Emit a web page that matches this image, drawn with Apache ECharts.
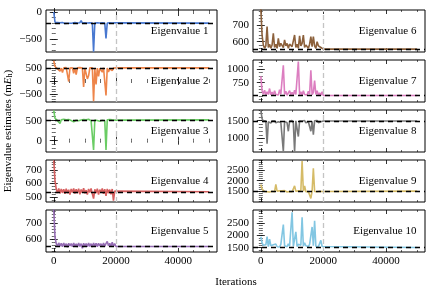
<!DOCTYPE html>
<html><head><meta charset="utf-8">
<script src="https://cdn.jsdelivr.net/npm/echarts@6/dist/echarts.min.js"></script>
<style>html,body{margin:0;padding:0;background:#fff}#c{width:434px;height:291px}</style>
</head><body><div id="c"></div>
<script>
const iterations = [0,400,800,1200,1600,2000,2400,2800,3200,3600,4000,4400,4800,5200,5600,6000,6400,6800,7200,7600,8000,8400,8800,9200,9600,10000,10400,10800,11200,11600,12000,12400,12800,13200,13600,14000,14400,14800,15200,15600,16000,16400,16800,17200,17600,18000,18400,18800,19200,19600,20000,50000];

const eig1 = [0,-190,-205,-195,-208,-200,-212,-196,-206,-211,
  -198,-207,-190,-209,-200,-205,-208,-196,-206,-203,
  -210,-198,-160,-205,-207,-199,-209,-203,-206,-198,
  -208,-204,-735,-203,-207,-200,-209,-204,-206,-199,
  -208,-205,-490,-203,-207,-200,-206,-204,-209,-202,
  -205,-205];
const eig2 = [780,560,500,470,510,380,495,330,505,460,
  515,480,-20,500,470,510,300,490,250,505,
  460,515,480,500,-230,495,470,80,200,505,
  480,510,-780,470,-130,500,180,490,460,340,
  510,480,-560,500,350,470,510,400,495,470,
  505,505];
const eig3 = [760,560,525,500,530,430,520,505,535,510,
  525,495,530,515,505,535,470,520,510,530,
  500,525,515,480,530,510,520,505,535,515,
  500,525,-230,515,530,505,520,485,530,510,
  520,500,-230,525,510,530,495,520,470,515,
  520,520];
const eig4 = [770,620,560,530,565,528,560,532,558,525,
  562,530,555,520,560,535,565,527,558,530,
  563,522,557,533,566,528,552,520,560,535,
  564,526,490,558,530,562,520,556,534,565,
  525,559,510,561,530,556,522,560,475,545,
  540,540];
const eig5 = [790,610,570,552,575,555,572,550,574,553,
  570,548,573,556,571,550,575,554,569,549,
  574,552,570,540,573,555,571,551,574,553,
  570,549,575,554,572,550,573,556,570,551,
  574,553,571,585,556,572,550,580,554,570,
  552,552];
const eig6 = [800,640,580,560,575,690,565,585,560,580,
  650,565,585,560,620,570,590,600,565,610,
  575,590,560,585,590,570,580,640,565,585,
  560,635,575,590,640,565,580,590,560,585,
  630,570,630,575,560,600,575,585,565,575,
  555,555];
const eig7 = [870,600,540,610,520,580,530,640,525,575,
  515,600,530,560,520,620,535,570,1070,530,
  590,515,560,600,525,570,520,610,530,565,
  1140,525,580,515,600,530,560,520,590,535,
  980,525,570,790,530,600,520,560,515,580,
  512,512];
const eig8 = [1800,1560,1480,1450,1500,850,1470,1505,1430,1495,
  1460,1500,1440,1490,1470,1505,1450,1495,630,1480,
  1500,1440,1200,1490,1460,1505,1430,620,1495,1470,
  1050,1500,1450,1490,1465,1505,1440,1495,1470,1500,
  1200,1480,1100,1495,1460,1505,1445,1490,1470,1500,
  1490,1490];
const eig9 = [1820,1600,1530,1480,1520,1470,1510,1460,1525,1490,
  1515,1470,1820,1500,1460,1520,1480,1510,1470,1525,
  1490,1460,1515,1480,1505,1470,1520,1750,1490,1465,
  1510,1480,1525,2950,1495,1750,1470,1510,1485,1520,
  1150,1500,2600,1480,1515,1470,1505,1490,1520,1480,
  1500,1500];
const eig10 = [1950,1700,1600,1560,1620,1950,1540,1850,1580,1530,
  1620,1560,1650,1540,1600,1530,1640,1560,2450,1580,
  1620,1540,1660,1570,1600,2950,1560,1620,2150,1550,
  1640,1570,1600,2750,1560,1700,1580,1620,1550,1640,
  1570,2350,1580,2600,1560,1620,1540,1600,1800,1550,
  1510,1510];

const exactValues = [-205, 505, 520, 540, 552, 553, 512, 1490, 1500, 1510];
const panelLabels = ['Eigenvalue 1','Eigenvalue 2','Eigenvalue 3','Eigenvalue 4','Eigenvalue 5',
  'Eigenvalue 6','Eigenvalue 7','Eigenvalue 8','Eigenvalue 9','Eigenvalue 10'];
const yMins = [-740, -810, -283, 465, 517, 538, 390, 611, 975, 1324];
const yMaxs = [37, 810, 767, 773, 785, 790, 1170, 1804, 3000, 3045];
const yTicks = [[-500,0],[-500,0,500],[0,500],[500,600,700],[600,700],[600,700],[750,1000],[1000,1500],[1500,2000,2500],[1500,2000,2500]];
const yMinorSteps = [100,100,100,20,20,20,62.5,100,100,100];
const xTicks = [0, 20000, 40000];
const xMinorTicks = [0, 5000, 10000, 15000, 25000, 30000, 35000, 45000, 50000];
const switchIter = 20000;
const xMin = -2500, xMax = 52500;

const allSeries = [eig1,eig2,eig3,eig4,eig5,eig6,eig7,eig8,eig9,eig10];
const colors = ['#4878d0','#ee854a','#6acc64','#d65f5f','#956cb4','#8c613c','#dc7ec0','#797979','#d5bb67','#82c6e2'];

const FONT = 'Liberation Serif';
const fmt = v => String(v).replace('-', '\u2212');
const labelStyle = {hideOverlap: false, showMinLabel: true, showMaxLabel: true, margin: 4, color: '#000', fontFamily: FONT, fontSize: 11, formatter: fmt};

const grids = [], xAxes = [], yAxes = [], series = [], graphics = [];
for (let k = 0; k < 10; k++) {
  const col = k < 5 ? 0 : 1, row = k % 5;
  const left = col ? 253 : 46, width = col ? 172 : 171, top = 10 + row * 50, height = 42;
  grids.push({left, top, width, height, show: true, borderColor: '#000', borderWidth: 1, backgroundColor: 'transparent'});
  const minorY = [];
  const st = yMinorSteps[k];
  for (let v = Math.ceil(yMins[k] / st) * st; v <= yMaxs[k]; v += st) minorY.push(v);
  const bottomRow = row === 4;
  const xBase = {type: 'value', gridIndex: k, min: xMin, max: xMax, splitLine: {show: false}, axisLine: {show: false}};
  const xi = xAxes.length;
  xAxes.push(Object.assign({}, xBase, {position: 'bottom',
    axisTick: {show: true, inside: true, length: 4, customValues: xTicks, lineStyle: {color: '#000', width: 0.8}},
    axisLabel: Object.assign({show: bottomRow, customValues: xTicks}, labelStyle)}));
  xAxes.push(Object.assign({}, xBase, {position: 'bottom',
    axisTick: {show: true, inside: true, length: 2, customValues: xMinorTicks, lineStyle: {color: '#000', width: 0.6}},
    axisLabel: {show: false}}));
  xAxes.push(Object.assign({}, xBase, {position: 'top',
    axisTick: {show: true, inside: true, length: 4, customValues: xTicks, lineStyle: {color: '#000', width: 0.8}},
    axisLabel: {show: false}}));
  xAxes.push(Object.assign({}, xBase, {position: 'top',
    axisTick: {show: true, inside: true, length: 2, customValues: xMinorTicks, lineStyle: {color: '#000', width: 0.6}},
    axisLabel: {show: false}}));
  const yBase = {type: 'value', gridIndex: k, min: yMins[k], max: yMaxs[k], splitLine: {show: false}, axisLine: {show: false}};
  const yi = yAxes.length;
  const evenTicks = yTicks[k].filter((v, i) => i % 2 === 0);
  const oddTicks = yTicks[k].filter((v, i) => i % 2 === 1);
  yAxes.push(Object.assign({}, yBase, {position: 'left',
    axisTick: {show: true, inside: true, length: 4, customValues: yTicks[k], lineStyle: {color: '#000', width: 0.8}},
    axisLabel: Object.assign({show: true, customValues: evenTicks}, labelStyle)}));
  yAxes.push(Object.assign({}, yBase, {position: 'left',
    axisTick: {show: true, inside: true, length: 2, customValues: minorY, lineStyle: {color: '#000', width: 0.6}},
    axisLabel: Object.assign({show: oddTicks.length > 0, customValues: oddTicks.length ? oddTicks : evenTicks}, labelStyle)}));
  yAxes.push(Object.assign({}, yBase, {position: 'right',
    axisTick: {show: true, inside: true, length: 4, customValues: yTicks[k], lineStyle: {color: '#000', width: 0.8}},
    axisLabel: {show: false}}));
  yAxes.push(Object.assign({}, yBase, {position: 'right',
    axisTick: {show: true, inside: true, length: 2, customValues: minorY, lineStyle: {color: '#000', width: 0.6}},
    axisLabel: {show: false}}));
  const vals = allSeries[k];
  series.push({
    type: 'line', xAxisIndex: xi, yAxisIndex: yi, showSymbol: false, symbol: 'none', animation: false,
    data: iterations.map((x, i) => [x, vals[i]]),
    lineStyle: {color: colors[k], width: 1.6}, z: 2, clip: true
  });
  series.push({
    type: 'line', xAxisIndex: xi, yAxisIndex: yi, data: [], animation: false, z: 5,
    markLine: {silent: true, symbol: 'none', animation: false, label: {show: false},
      data: [
        {yAxis: exactValues[k], lineStyle: {color: '#000', type: [5, 4], width: 1.4}},
        {xAxis: switchIter, lineStyle: {color: '#c4c4c4', type: [5, 3], width: 1.3}}
      ]}
  });
  graphics.push({type: 'text', x: left + 0.95 * width, y: top + height / 2,
    style: {text: panelLabels[k], fill: '#000', font: '11px "' + FONT + '"', textAlign: 'right', textVerticalAlign: 'middle'}, z: 10});
}
graphics.push({type: 'text', x: 236, y: 282,
  style: {text: 'Iterations', fill: '#000', font: '11px "' + FONT + '"', textAlign: 'center', textVerticalAlign: 'middle'}});
graphics.push({type: 'text', x: 8, y: 131, rotation: Math.PI / 2,
  style: {text: 'Eigenvalue estimates (m{i|E}{s|h})', fill: '#000', font: '11px "' + FONT + '"', textAlign: 'center', textVerticalAlign: 'middle',
    rich: {i: {fontStyle: 'italic', fontFamily: FONT, fontSize: 11}, s: {fontFamily: FONT, fontSize: 8, verticalAlign: 'bottom', padding: [4, 0, 0, 0]}}}});

const chart = echarts.init(document.getElementById('c'), null, {renderer: 'canvas'});
chart.setOption({animation: false, grid: grids, xAxis: xAxes, yAxis: yAxes, series, graphic: graphics});
</script></body></html>
